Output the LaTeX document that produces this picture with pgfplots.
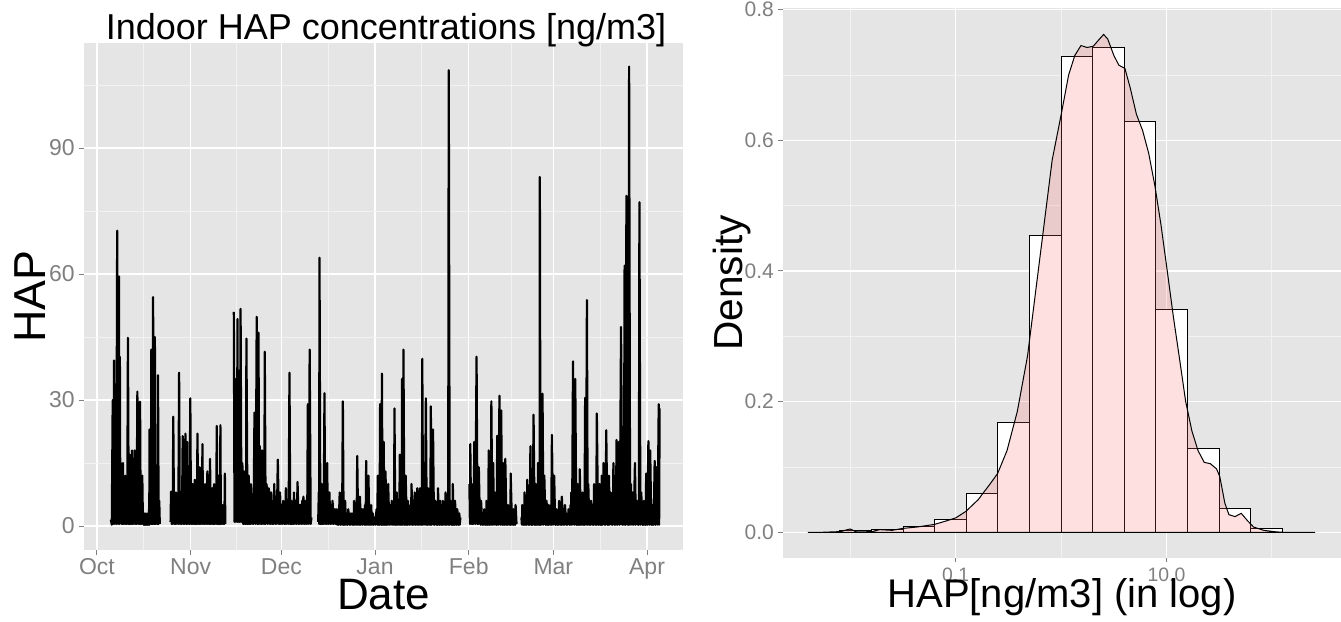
\documentclass[border=0pt]{standalone}
\usepackage{fontspec}
\setmainfont{Liberation Sans}
\usepackage{pgfplots}
\pgfplotsset{compat=1.18}
\definecolor{gA}{HTML}{E5E5E5}
\definecolor{gB}{HTML}{F2F2F2}
\definecolor{gC}{HTML}{7F7F7F}
\definecolor{pinkfill}{HTML}{FF6666}
\begin{document}
\begin{tikzpicture}
\useasboundingbox (0,0) rectangle (670.5pt,311pt);
% ---------------- left panel ----------------
\begin{axis}[
 at={(42pt,36pt)}, anchor=south west,
 scale only axis, width=299.5pt, height=253.5pt,
 xmin=-4.3, xmax=193.9, ymin=-5.71, ymax=115,
 axis background/.style={fill=gA},
 axis line style={draw=none},
 tick pos=left, tick align=outside,
 major tick length=2.4pt, minor tick length=0pt,
 tick style={color=gC, line width=0.5pt},
 xtick={0,31,61,92,123,151,182},
 xticklabels={Oct,Nov,Dec,Jan,Feb,Mar,Apr},
 minor xtick={15.5,46,76.5,107.5,137,166.5},
 ytick={0,30,60,90}, yticklabels={0,30,60,90},
 minor ytick={15,45,75,105},
 grid=both,
 major grid style={white, line width=0.7pt},
 minor grid style={gB, line width=0.45pt},
 xticklabel style={font=\fontsize{11.5}{12}\selectfont, text=gC, anchor=base, inner sep=0pt, yshift=-10.1pt},
 yticklabel style={font=\fontsize{11.5}{12}\selectfont, text=gC, anchor=east, inner sep=0pt, xshift=-2.1pt},
 every axis title shift=0pt,
 title={Indoor HAP concentrations [ng/m3]},
 title style={font=\fontsize{18}{20}\selectfont, anchor=base, inner sep=0pt, at={([xshift=1.25pt,yshift=1.5pt]axis description cs:0.5,1)}},
 xlabel={Date},
 xlabel style={font=\fontsize{22}{24}\selectfont, anchor=base, inner sep=0pt, at={([yshift=-29.8pt]axis description cs:0.5,0)}},
 ylabel={HAP},
 ylabel style={font=\fontsize{22.4}{24}\selectfont, anchor=base, inner sep=0pt, at={([xshift=-19pt]axis description cs:0,0.5)}},
]
\addplot[black, line width=1.1pt, line join=round, mark=none] coordinates {
(4.60,1.5) (4.9,0.3) (5.20,30) (5.42,0.5) (5.64,39.4) (5.9,0.5) (6.15,14) (6.4,0.5) (6.68,70.3) (6.97,0.5) (7.27,59.4) (7.42,0.5) (7.57,40.3) (7.72,1) (7.87,15) (8.1,0.5) (8.3,9) (8.45,0.5) (8.61,15) (8.8,0.5) (9.0,6) (9.2,0.5) (9.35,12) (9.6,0.5) (9.8,5) (10.0,0.5) (10.24,44.8) (10.5,0.5) (10.65,8) (10.75,0.5) (10.84,17) (11.0,0.5) (11.2,6) (11.4,0.5) (11.58,18) (11.8,0.5) (12.0,5) (12.2,0.5) (12.47,18) (12.7,0.5) (12.9,7) (13.1,0.5) (13.36,32) (13.6,0.5) (13.8,6) (14.0,0.5) (14.25,29.6) (14.45,0.5) (14.6,6) (14.8,0.5) (14.99,12) (15.2,0.5) (15.4,3) (15.5,0.3) (15.59,3) (15.8,0.3) (16.0,2) (16.1,0.3) (16.18,3) (16.4,0.3) (16.6,2) (16.7,0.3) (16.78,3) (17.0,0.3) (17.2,4) (17.3,0.3) (17.37,23) (17.6,0.5) (17.8,8) (17.9,0.5) (17.96,42) (18.2,0.5) (18.4,10) (18.5,0.5) (18.56,54.5) (18.8,0.5) (19.0,12) (19.1,0.5) (19.15,45) (19.35,0.5) (19.6,12) (19.8,0.5) (20.0,8) (20.1,0.5) (20.19,35.9) (20.4,0.5) (20.6,6) (20.78,0.5)
};
\addplot[black, line width=1.1pt, line join=round, mark=none] coordinates {
(24.35,1) (24.5,8.2) (24.7,0.5) (24.9,6) (25.05,0.5) (25.24,26) (25.5,0.5) (25.7,8) (25.9,0.5) (26.13,8) (26.4,0.5) (26.6,7) (26.9,0.5) (27.17,36.5) (27.4,0.5) (27.6,6) (27.75,0.5) (27.91,8) (28.1,0.5) (28.36,21.4) (28.6,0.5) (28.8,7) (29.0,0.5) (29.25,22) (29.5,0.5) (29.65,6) (29.75,0.5) (29.84,20) (30.1,0.5) (30.3,8) (30.6,0.5) (30.88,30.4) (31.1,0.5) (31.3,8) (31.45,0.5) (31.62,10) (31.8,0.5) (32.0,6) (32.2,0.5) (32.36,11) (32.6,0.5) (32.8,7) (33.0,0.5) (33.25,22) (33.5,0.5) (33.7,6) (33.85,0.5) (34.0,14) (34.2,0.5) (34.45,7) (34.7,0.5) (34.89,19.5) (35.1,0.5) (35.3,6) (35.55,0.5) (35.78,10) (36.0,0.5) (36.2,7) (36.35,0.5) (36.52,13) (36.75,0.5) (37.0,6) (37.2,0.5) (37.41,16) (37.6,0.5) (37.8,6) (38.0,0.5) (38.15,9) (38.35,0.5) (38.55,6) (38.65,0.5) (38.75,10) (38.95,0.5) (39.2,7) (39.4,0.5) (39.64,23.8) (39.85,0.5) (40.0,8) (40.1,0.5) (40.23,12) (40.4,0.5) (40.6,7) (40.7,0.5) (40.83,24) (41.0,0.5) (41.2,5) (41.4,0.5) (41.57,5) (41.8,0.5) (42.0,4) (42.15,0.5) (42.31,12.5) (42.46,0.5)
};
\addplot[black, line width=1.1pt, line join=round, mark=none] coordinates {
(45.28,51) (45.5,1) (45.72,35) (45.9,1) (46.2,12) (46.35,1) (46.47,49.3) (46.7,1) (46.91,37) (47.2,1) (47.35,10) (47.42,1) (47.51,51.7) (47.8,1) (48.10,15) (48.4,0.5) (48.55,6) (48.62,0.5) (48.69,13) (49.0,0.5) (49.2,8) (49.3,0.5) (49.44,44.6) (49.8,0.5) (50.0,7) (50.1,0.5) (50.18,12) (50.5,0.5) (50.7,6) (50.8,0.5) (50.92,10) (51.3,0.5) (51.5,7) (51.8,0.5) (52.11,27) (52.5,0.5) (52.85,49.8) (53.1,0.5) (53.25,10) (53.35,0.5) (53.44,46) (53.65,0.5) (53.89,19) (54.2,0.5) (54.4,8) (54.5,0.5) (54.63,18) (55.0,0.5) (55.2,8) (55.35,0.5) (55.52,41.5) (55.8,0.5) (56.12,10) (56.5,0.5) (56.86,9) (57.2,0.5) (57.4,6) (57.5,0.5) (57.60,8) (58.0,0.5) (58.3,6) (58.45,0.5) (58.64,10) (59.0,0.5) (59.3,7) (59.5,0.5) (59.83,15.8) (60.2,0.5) (60.4,6) (60.5,0.5) (60.57,8) (60.9,0.5) (61.2,5) (61.4,0.5) (61.61,6) (62.0,0.5) (62.2,5) (62.3,0.5) (62.50,9) (62.8,0.5) (63.1,6) (63.4,0.5) (63.69,36.5) (63.95,0.5) (64.1,5) (64.2,0.5) (64.28,6) (64.6,0.5) (64.9,5) (65.0,0.5) (65.17,8) (65.5,0.5) (65.8,6) (66.1,0.5) (66.36,10.5) (66.7,0.5) (66.9,5) (67.1,0.5) (67.25,5) (67.6,0.5) (67.9,6) (68.1,0.5) (68.29,7) (68.6,0.5) (68.9,6) (69.1,0.5) (69.33,6) (69.55,0.5) (69.77,29) (70.1,0.5) (70.37,42) (70.7,0.5) (70.96,2)
};
\addplot[black, line width=1.1pt, line join=round, mark=none] coordinates {
(73.19,1) (73.4,8) (73.5,0.5) (73.63,63.9) (73.9,0.5) (74.1,8) (74.2,0.5) (74.38,10) (74.6,0.5) (74.8,8) (75.0,0.5) (75.27,31.6) (75.5,0.5) (75.7,7) (75.9,0.5) (76.16,15) (76.4,0.5) (76.6,6) (76.75,0.5) (76.90,8) (77.2,0.5) (77.5,5) (77.7,0.5) (77.94,6) (78.3,0.5) (78.6,4) (78.9,0.5) (79.13,4) (79.5,0.3) (79.8,4) (80.0,0.3) (80.31,8) (80.6,0.3) (80.9,4) (81.1,0.3) (81.35,29.7) (81.6,0.3) (81.8,4) (81.95,0.3) (82.10,6) (82.4,0.3) (82.7,3) (82.9,0.3) (83.14,4) (83.5,0.3) (83.8,3) (84.0,0.3) (84.32,3) (84.6,0.3) (84.8,3) (84.95,0.3) (85.07,6) (85.4,0.3) (85.7,4) (85.9,0.3) (86.11,16.7) (86.4,0.3) (86.6,5) (86.8,0.3) (87.00,7) (87.3,0.3) (87.6,4) (87.8,0.3) (88.04,4) (88.4,0.3) (88.7,5) (88.9,0.3) (89.07,15.5) (89.3,0.3) (89.5,5) (89.65,0.3) (89.82,12) (90.1,0.3) (90.4,4) (90.55,0.3) (90.71,5) (91.0,0.3) (91.3,3) (91.5,0.3) (91.75,2) (92.1,0.3) (92.5,4) (92.7,0.3) (92.93,12) (93.2,0.3) (93.4,8) (93.5,0.3) (93.68,29) (93.95,0.3) (94.1,10) (94.18,0.3) (94.27,36.3) (94.5,0.3) (94.65,9) (94.75,0.3) (94.86,20) (95.1,0.3) (95.3,8) (95.4,0.3) (95.46,13) (95.8,0.3) (96.1,6) (96.2,0.3) (96.35,10) (96.7,0.3) (97.1,5) (97.3,0.3) (97.54,6) (97.9,0.3) (98.2,5) (98.3,0.3) (98.43,28) (98.7,0.3) (98.9,5) (99.0,0.3) (99.17,8) (99.5,0.3) (99.8,5) (100.0,0.3) (100.21,17) (100.5,0.3) (100.7,6) (100.8,0.3) (100.95,35) (101.2,0.3) (101.40,42) (101.7,0.3) (101.9,7) (102.0,0.3) (102.14,12) (102.5,0.3) (102.7,5) (102.8,0.3) (102.88,6) (103.3,0.3) (103.7,5) (103.9,0.3) (104.07,10) (104.4,0.3) (104.7,5) (104.9,0.3) (105.11,8) (105.4,0.3) (105.7,5) (105.85,0.3) (106.00,9) (106.3,0.3) (106.6,5) (106.75,0.3) (106.89,9) (107.2,0.3) (107.4,6) (107.5,0.3) (107.63,39.8) (107.9,0.3) (108.22,15) (108.5,0.3) (108.82,30.4) (109.1,0.3) (109.3,6) (109.45,0.3) (109.56,9) (109.9,0.3) (110.2,5) (110.3,0.3) (110.45,28.5) (110.8,0.3) (111.19,23) (111.5,0.3) (111.7,5) (111.8,0.3) (111.94,6) (112.3,0.3) (112.6,5) (112.7,0.3) (112.83,9) (113.2,0.3) (113.4,4) (113.5,0.3) (113.57,6) (113.9,0.3) (114.2,4) (114.3,0.3) (114.46,6) (114.8,0.3) (115.1,4) (115.2,0.3) (115.35,8) (115.7,0.3) (116.0,5) (116.2,0.3) (116.39,108.5) (116.7,0.3) (116.98,6) (117.3,0.3) (117.5,5) (117.6,0.3) (117.73,10) (118.0,0.3) (118.2,4) (118.3,0.3) (118.47,6) (118.8,0.3) (119.0,4) (119.1,0.3) (119.21,4) (119.6,0.3) (119.9,3) (120.0,0.3) (120.25,2)
};
\addplot[black, line width=1.1pt, line join=round, mark=none] coordinates {
(123.22,10) (123.4,0.5) (123.52,19.5) (123.8,0.5) (124.1,6) (124.25,0.5) (124.41,10) (124.6,0.5) (124.85,20) (125.2,0.5) (125.59,40.3) (125.9,0.5) (126.1,6) (126.2,0.5) (126.34,14) (126.7,0.5) (126.9,4) (127.0,0.3) (127.08,6) (127.5,0.3) (127.8,3) (128.0,0.3) (128.12,4) (128.5,0.3) (128.7,3) (128.8,0.3) (128.86,6) (129.2,0.3) (129.4,4) (129.5,0.3) (129.60,18) (129.9,0.3) (130.2,5) (130.35,0.3) (130.49,29.7) (130.8,0.3) (131.09,15) (131.4,0.3) (131.68,8) (132.0,0.3) (132.2,5) (132.3,0.3) (132.42,21.5) (132.8,0.3) (133.17,31) (133.45,0.3) (133.76,27.5) (134.0,0.3) (134.2,6) (134.3,0.3) (134.35,15) (134.7,0.3) (134.9,5) (135.0,0.3) (135.10,16) (135.5,0.3) (135.8,4) (135.9,0.3) (135.99,5) (136.4,0.3) (136.7,4) (136.8,0.3) (136.88,12.5) (137.3,0.3) (137.6,3) (137.7,0.3) (137.77,4) (138.1,0.3) (138.3,3) (138.4,0.3) (138.51,5) (138.81,0.5)
};
\addplot[black, line width=1.1pt, line join=round, mark=none] coordinates {
(140.44,2) (140.6,0.3) (140.74,5) (141.1,0.3) (141.3,4) (141.4,0.3) (141.48,8) (141.9,0.3) (142.1,5) (142.2,0.3) (142.37,11) (142.8,0.3) (143.1,6) (143.2,0.3) (143.41,19) (143.7,0.3) (143.85,6) (143.9,0.3) (144.00,10) (144.2,0.3) (144.45,26.5) (144.8,0.3) (145.0,6) (145.1,0.3) (145.19,10) (145.5,0.3) (145.7,6) (145.8,0.3) (145.93,15) (146.2,0.3) (146.4,8) (146.45,0.3) (146.53,83.1) (146.75,0.3) (146.97,20) (147.2,0.3) (147.42,31.5) (147.7,0.3) (148.01,12) (148.4,0.3) (148.6,4) (148.65,0.3) (148.75,6) (149.1,0.3) (149.3,4) (149.4,0.3) (149.50,5) (149.9,0.3) (150.2,5) (150.3,0.3) (150.53,21.7) (150.9,0.3) (151.28,12) (151.6,0.3) (151.8,3) (151.9,0.3) (152.02,4) (152.4,0.3) (152.7,4) (152.8,0.3) (152.91,6) (153.3,0.3) (153.6,4) (153.7,0.3) (153.80,7) (154.2,0.3) (154.5,3) (154.6,0.3) (154.84,5) (155.3,0.3) (155.7,3) (155.8,0.3) (156.03,4) (156.4,0.3) (156.7,5) (156.8,0.3) (156.92,8) (157.2,0.3) (157.51,39.2) (157.9,0.3) (158.25,35) (158.6,0.3) (158.8,5) (158.9,0.3) (159.00,10) (159.3,0.3) (159.5,6) (159.6,0.3) (159.74,13.5) (160.1,0.3) (160.4,5) (160.5,0.3) (160.63,8) (161.0,0.3) (161.2,5) (161.3,0.3) (161.52,30.5) (161.8,0.3) (162.11,53.8) (162.35,0.3) (162.56,10) (162.9,0.3) (163.2,5) (163.3,0.3) (163.45,6) (163.9,0.3) (164.2,5) (164.3,0.3) (164.49,10) (164.9,0.3) (165.1,5) (165.2,0.3) (165.38,26.8) (165.8,0.3) (166.0,5) (166.1,0.3) (166.27,10) (166.6,0.3) (166.8,6) (166.9,0.3) (167.01,12) (167.3,0.3) (167.61,15) (168.0,0.3) (168.2,6) (168.3,0.3) (168.50,22.8) (168.9,0.3) (169.1,6) (169.2,0.3) (169.39,12) (169.7,0.3) (169.98,8) (170.4,0.3) (170.6,6) (170.7,0.3) (170.87,15) (171.3,0.3) (171.6,7) (171.7,0.3) (171.91,20.5) (172.3,0.3) (172.65,20) (173.0,0.3) (173.40,47.4) (173.8,0.3) (174.14,20) (174.35,0.3) (174.58,62) (174.9,0.3) (175.18,78.6) (175.5,0.3) (175.77,77) (175.9,0.3) (176.07,109.4) (176.4,0.3) (176.66,10) (177.0,0.3) (177.26,8) (177.6,0.3) (178.00,15) (178.3,0.3) (178.59,6) (179.0,0.3) (179.2,5) (179.3,0.3) (179.48,77.1) (179.8,0.3) (180.08,8) (180.5,0.3) (180.7,5) (180.8,0.3) (180.97,6) (181.3,0.3) (181.5,5) (181.6,0.3) (181.71,12.5) (182.1,0.3) (182.45,20.2) (182.75,0.3) (183.05,18) (183.4,0.3) (183.6,5) (183.7,0.3) (183.79,5) (184.2,0.3) (184.53,15.5) (184.8,0.3) (185.12,14) (185.5,0.3) (185.87,29) (186.0,0.3) (186.16,28)
};
\end{axis}
% ---------------- right panel ----------------
\begin{axis}[
 at={(391.5pt,32.15pt)}, anchor=south west,
 scale only axis, width=279pt, height=274.85pt,
 xmin=-2.639, xmax=2.657, ymin=-0.0389, ymax=0.8025,
 axis background/.style={fill=gA},
 axis line style={draw=none},
 tick pos=left, tick align=outside,
 major tick length=2.4pt, minor tick length=0pt,
 tick style={color=gC, line width=0.5pt},
 xtick={-1,1}, xticklabels={0.1,10.0},
 minor xtick={-2,0,2},
 ytick={0,0.2,0.4,0.6,0.8}, yticklabels={0.0,0.2,0.4,0.6,0.8},
 minor ytick={0.1,0.3,0.5,0.7},
 grid=both,
 major grid style={white, line width=0.7pt},
 minor grid style={gB, line width=0.45pt},
 xticklabel style={font=\fontsize{9.7}{10}\selectfont, text=gC, anchor=base, inner sep=0pt, yshift=-9.6pt},
 yticklabel style={font=\fontsize{10.5}{11}\selectfont, text=gC, anchor=east, inner sep=0pt, xshift=-1.95pt},
 xlabel={HAP[ng/m3] (in log)},
 xlabel style={font=\fontsize{20}{22}\selectfont, anchor=base, inner sep=0pt, at={([yshift=-24.95pt]axis description cs:0.5,0)}},
 ylabel={Density},
 ylabel style={font=\fontsize{20.3}{22}\selectfont, anchor=base, inner sep=0pt, at={([xshift=-20.5pt]axis description cs:0,0.5)}},
]
\addplot[ybar interval, fill=white, draw=black, line width=0.5pt] coordinates {
(-2.1,0.002) (-1.8,0.005) (-1.5,0.0085) (-1.2,0.020) (-0.9,0.0588) (-0.6,0.168) (-0.3,0.4545) (0,0.729) (0.3,0.742) (0.6,0.628) (0.9,0.3406) (1.2,0.1285) (1.5,0.0358) (1.8,0.0055) (2.1,0)
};
\addplot[draw=black, line width=0.5pt, fill=pinkfill, fill opacity=0.2, mark=none] coordinates {
(-2.404,0) (-2.267,0) (-2.103,0.001) (-2.002,0.005) (-1.936,0.0005) (-1.799,0.001) (-1.721,0.004) (-1.604,0.003) (-1.499,0.006) (-1.370,0.008) (-1.203,0.012) (-1.097,0.017) (-1.000,0.022) (-0.903,0.032) (-0.786,0.05) (-0.669,0.075) (-0.602,0.09) (-0.513,0.125) (-0.415,0.185) (-0.318,0.27) (-0.240,0.37) (-0.162,0.47) (-0.084,0.57) (0.002,0.64) (0.072,0.70) (0.131,0.73) (0.189,0.745) (0.248,0.742) (0.306,0.744) (0.365,0.755) (0.404,0.762) (0.443,0.755) (0.501,0.73) (0.548,0.715) (0.606,0.71) (0.657,0.68) (0.715,0.64) (0.774,0.615) (0.832,0.58) (0.891,0.53) (0.949,0.47) (1.008,0.40) (1.066,0.33) (1.125,0.265) (1.183,0.20) (1.242,0.155) (1.300,0.125) (1.359,0.107) (1.417,0.105) (1.476,0.097) (1.507,0.085) (1.554,0.045) (1.593,0.027) (1.651,0.024) (1.710,0.029) (1.768,0.018) (1.827,0.008) (1.924,0.003) (2.021,0.001) (2.099,0) (2.411,0)
} \closedcycle;
\end{axis}
\end{tikzpicture}
\end{document}
